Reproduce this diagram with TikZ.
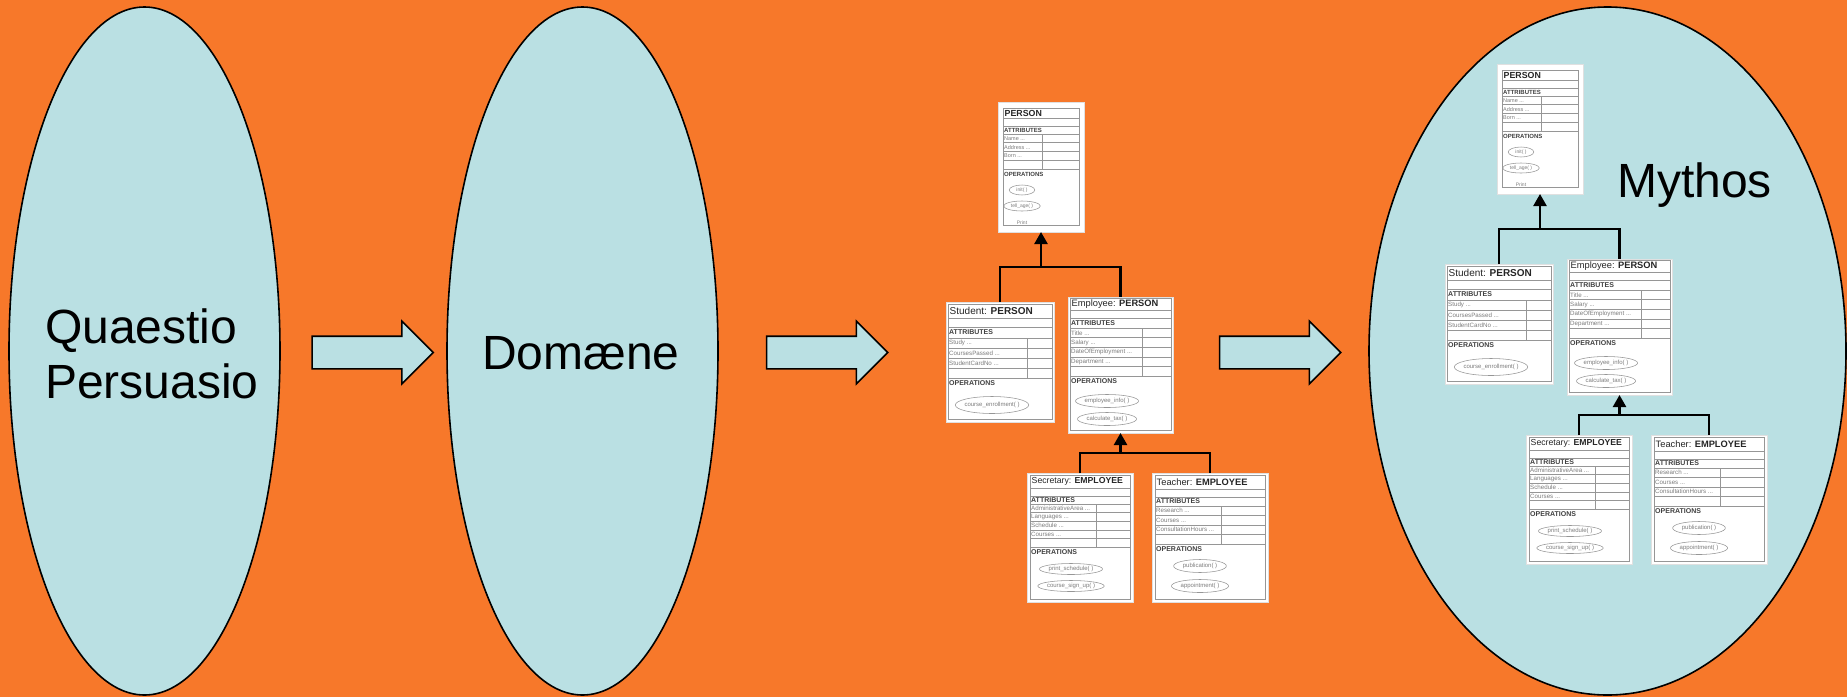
\documentclass[tikz,border=0pt]{standalone}
\usepackage{fontspec}
\setmainfont{Liberation Sans}
\usetikzlibrary{arrows.meta,shapes.geometric,shapes.arrows,calc}

\definecolor{bgorange}{RGB}{247,120,42}
\definecolor{paleblue}{RGB}{186,224,227}
\definecolor{umlgray}{RGB}{150,150,150}
\definecolor{umltext}{RGB}{125,125,125}

% ---------- keys of one UML class box ----------
\pgfkeys{/uml/.cd,
  x/.store in=\uX, y/.store in=\uY, w/.store in=\uW, h/.store in=\uH,
  inset/.store in=\uIn, top/.store in=\uTop, bottom/.store in=\uBot,
  title row/.store in=\uT, blank/.store in=\uB, attr row/.store in=\uA,
  row/.store in=\uR, n/.store in=\uN, div/.store in=\uDiv,
  cx/.store in=\uCx, first/.store in=\uFirst, gap/.store in=\uGap,
  oph/.store in=\uOph, pad/.store in=\uPad,
  title/.store in=\uTitle, title size/.store in=\uTs,
  label size/.store in=\uLs, item size/.store in=\uIs, op size/.store in=\uOs,
  attrs/.store in=\uAttrs, ops/.store in=\uOps}

\tikzset{
  stage/.style={ellipse, draw=black, line width=1.6pt, fill=paleblue, inner sep=0pt},
  bigtext/.style={font=\fontsize{48}{55}\selectfont, text=black, inner sep=0pt},
  flowarrow/.style={single arrow, draw=black, line width=1.6pt, fill=paleblue,
    inner xsep=0pt, inner ysep=15.5pt, minimum height=121pt,
    single arrow head extend=15pt, single arrow tip angle=90},
  umlpanel/.style={rectangle, draw=black!12, line width=0.8pt, fill=white,
    inner sep=0pt, outer sep=0pt, anchor=north west},
  umlrule/.style={draw=umlgray, line width=0.55pt},
  umltitle/.style={anchor=west, inner sep=0pt, text=black!85},
  umlhead/.style={anchor=west, inner sep=0pt, text=black!75},
  umlitem/.style={anchor=west, inner sep=0pt, text=umltext},
  umlop/.style={inner sep=0pt, text=umltext},
  genlink/.style={draw=black, line width=2.4pt},
  genarrow/.style={genlink, -{Triangle[width=13pt,length=12pt]}},
}

% one class box: #1 name, #2 layout keys
\newcommand\umlclass[2]{%
  \pgfkeys{/uml/.cd, inset=3, top=2, blank=8, bottom=3, title size=9.3,
    label size=7, item size=6.2, op size=6, gap=18, oph=12, pad=9, #2}%
  \begin{scope}[shift={(\uX,\uY)}]
    \pgfmathsetmacro\uRt{\uW-\uIn}
    \pgfmathsetmacro\yT{\uTop+\uT}
    \pgfmathsetmacro\yBk{\yT+\uB}
    \pgfmathsetmacro\yAt{\yBk+\uA}
    \pgfmathsetmacro\yOp{\yAt+(\uN+1)*\uR}
    \pgfmathsetmacro\yEnd{\uH-\uBot}
    \node[umlpanel, minimum width=\uW pt, minimum height=\uH pt] (#1) at (0,0) {};
    \draw[umlrule] (\uIn,\uTop) rectangle (\uRt,\yEnd);
    \draw[umlrule] (\uIn,\yT) -- (\uRt,\yT) (\uIn,\yBk) -- (\uRt,\yBk)
      (\uIn,\yAt) -- (\uRt,\yAt) (\uIn,\yOp) -- (\uRt,\yOp);
    \foreach \k in {1,...,\uN}
      \draw[umlrule] (\uIn,{\yAt+\k*\uR}) -- (\uRt,{\yAt+\k*\uR});
    \draw[umlrule] (\uDiv,\yAt) -- (\uDiv,\yOp);
    \node[umltitle, font={\fontsize{\uTs}{\uTs}\selectfont}] (#1-title)
      at ({\uIn+1.5},{(\uTop+\yT)/2}) {\uTitle};
    \node[umlhead, font={\fontsize{\uLs}{\uLs}\selectfont\bfseries}] (#1-attrs)
      at ({\uIn+1},{(\yBk+\yAt)/2}) {ATTRIBUTES};
    \foreach \a [count=\k] in \uAttrs
      \node[umlitem, font={\fontsize{\uIs}{\uIs}\selectfont}] (#1-attr\k)
        at ({\uIn+1},{\yAt+(\k-0.5)*\uR}) {\a\ ...};
    \node[umlhead, font={\fontsize{\uLs}{\uLs}\selectfont\bfseries}] (#1-ops)
      at ({\uIn+1},{\yOp+5}) {OPERATIONS};
    \foreach \o [count=\k] in \uOps {
      \node[umlop, font={\fontsize{\uOs}{\uOs}\selectfont}] (#1-op\k)
        at (\uCx,{\yOp+\uFirst+(\k-1)*\uGap}) {\o};
      \draw[umlrule] let \p1=($(#1-op\k.east)-(#1-op\k.west)$) in
        (#1-op\k.center) ellipse [x radius={0.5*\x1+\uPad*1pt}, y radius={\uOph*0.5pt}];
    }
  \end{scope}}

% the PERSON / EMPLOYEE generalisation diagram; #1 prefixes its node names
\newcommand\classdiagram[1]{%
  \umlclass{#1-person}{x=998, y=102, w=86, h=130, inset=5, top=6, bottom=7,
    title row=10, blank=8, attr row=8, row=8.75, n=3, div=44,
    title={\textbf{PERSON}}, title size=8.8, label size=6, item size=5.5, op size=5,
    attrs={Name,Address,Born}, ops={init( ),tell\_age( )},
    cx=24, first=21, gap=16, oph=10, pad=7}
  \node[umlop, font={\fontsize{5}{5}\selectfont}] (#1-print) at (1022,223) {Print};
  \umlclass{#1-student}{x=946, y=302, w=108, h=120, inset=2, top=2,
    title row=14, blank=9, attr row=11, row=10, n=3, div=81,
    title={Student: \textbf{PERSON}}, title size=10,
    attrs={Study,CoursesPassed,StudentCardNo}, ops={course\_enrollment( )},
    cx=46, first=27, oph=17}
  \umlclass{#1-employee}{x=1068, y=297, w=105, h=136, inset=2, top=1,
    title row=12, blank=8, attr row=10, row=9.6, n=4, div=74,
    title={Employee: \textbf{PERSON}},
    attrs={Title,Salary,DateOfEmployment,Department},
    ops={employee\_info( ),calculate\_tax( )},
    cx=39, first=25, gap=18, oph=13}
  \umlclass{#1-secretary}{x=1027, y=473, w=106, h=129, inset=3, top=2,
    title row=13, blank=8, attr row=8, row=8.6, n=4, div=69,
    title={Secretary: \textbf{EMPLOYEE}}, title size=8.7,
    attrs={AdministrativeArea,Languages,Schedule,Courses},
    ops={print\_schedule( ),course\_sign\_up( )},
    cx=44, first=22, gap=17, oph=11}
  \umlclass{#1-teacher}{x=1152, y=473, w=116, h=129, inset=3, top=2,
    title row=14, blank=8, attr row=9, row=9.5, n=3, div=69,
    title={Teacher: \textbf{EMPLOYEE}},
    attrs={Research,Courses,ConsultationHours},
    ops={publication( ),appointment( )},
    cx=48, first=22, gap=20, oph=13}
  % generalisation connectors
  \coordinate (#1-j1) at (1041,267);
  \coordinate (#1-j2) at (1120.5,453);
  \draw[genlink] (#1-student.north) |- (#1-j1) -| (#1-employee.north);
  \draw[genarrow] (#1-j1) -- (#1-person.south);
  \draw[genlink] (#1-secretary.north) |- (#1-j2) -| (#1-teacher.north);
  \draw[genarrow] (#1-j2) -- (#1-employee.south);
}

\begin{document}
\begin{tikzpicture}[x=1pt, y=-1pt]
  \useasboundingbox (0,0) rectangle (1847,697);
  \fill[bgorange] (0,0) rectangle (1847,697);

  % three stages
  \node[stage, minimum width=271pt, minimum height=688pt] (quaestio) at (144.5,351) {};
  \node[stage, minimum width=271pt, minimum height=688pt] (domaene) at (582.5,351) {};
  \node[stage, minimum width=477pt, minimum height=688pt] (mythos) at (1607.5,351) {};

  \node[bigtext, align=left, anchor=base west] (quaestio-label) at (45,398) {Quaestio\\Persuasio};
  \node[bigtext, anchor=base] (domaene-label) at (581,369) {Domæne};
  \node[bigtext, anchor=base west] (mythos-label) at (1617,197) {Mythos};

  % block arrows between the stages
  \node[flowarrow] (step1) at (364.5,352.5) {};
  \node[flowarrow] (step2) at (819,352.5) {};
  \node[flowarrow] (step3) at (1272,352.5) {};

  % class diagram, on its own and inside the last stage
  \classdiagram{m}
  \begin{scope}[shift={(499,-38)}]
    \classdiagram{r}
  \end{scope}
\end{tikzpicture}
\end{document}
